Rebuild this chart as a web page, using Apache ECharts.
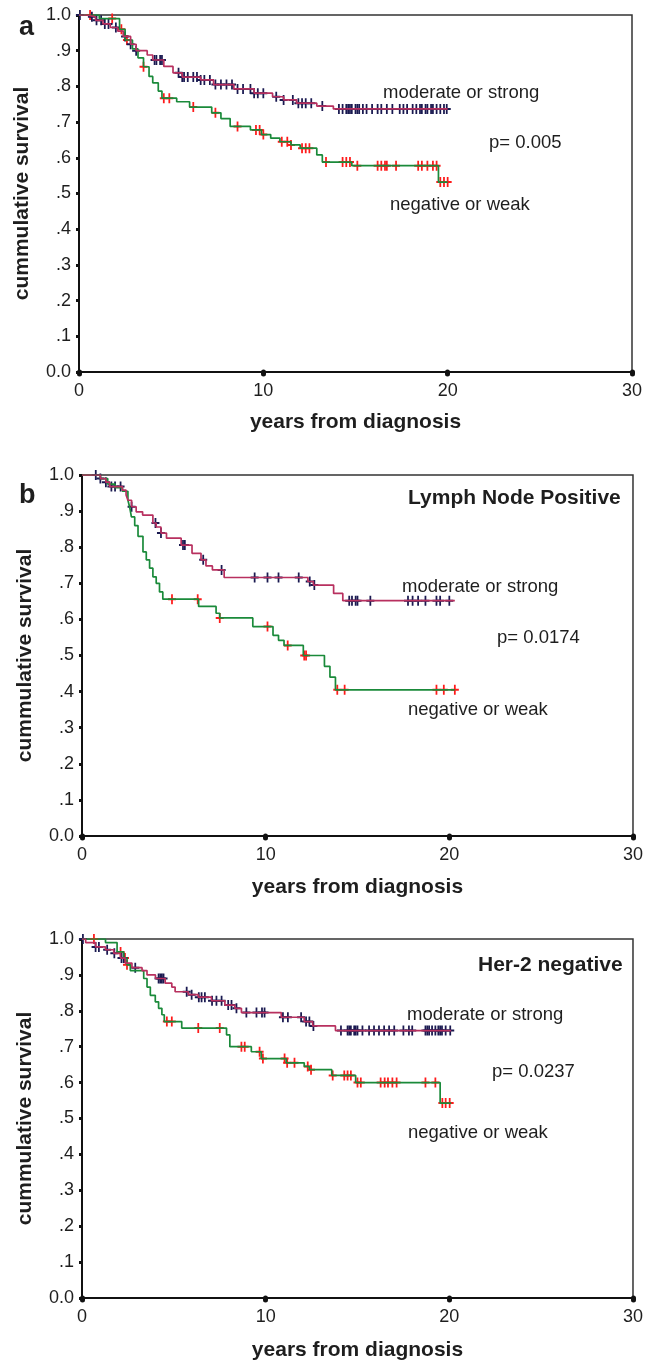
<!DOCTYPE html>
<html>
<head>
<meta charset="utf-8">
<script src="https://cdn.jsdelivr.net/npm/echarts@6/dist/echarts.min.js"></script>
<style>
  html, body { margin: 0; padding: 0; background: #fff; }
  #chart { width: 646px; height: 1362px; }
</style>
</head>
<body>
<div id="chart"></div>
<script>
// survival steps: [years, cumulative survival from that time on]
const aStrongSteps = [[0,1],[0.4,0.995],[0.9,0.985],[1.3,0.975],[1.7,0.965],[2.1,0.955],[2.4,0.94],[2.8,0.918],[3.1,0.9],[3.7,0.888],[4.0,0.874],[4.6,0.856],[5.1,0.838],[5.6,0.826],[6.6,0.818],[7.3,0.805],[8.4,0.793],[9.5,0.781],[10.5,0.771],[11.1,0.762],[11.8,0.753],[12.9,0.745],[13.8,0.737]]
const aWeakSteps = [[0,1],[1.1,0.99],[2.2,0.96],[2.5,0.93],[2.9,0.905],[3.2,0.88],[3.5,0.855],[3.8,0.828],[4.0,0.81],[4.3,0.787],[4.5,0.767],[5.3,0.757],[6.0,0.742],[7.2,0.726],[7.7,0.71],[8.2,0.688],[9.3,0.678],[9.9,0.665],[10.4,0.655],[10.9,0.645],[11.5,0.636],[12.0,0.627],[12.9,0.608],[13.2,0.588],[14.8,0.578],[19.5,0.532]]
const aEnd = 20.0
const aStrongCens = [0.05,0.7,0.95,1.2,1.4,1.6,2.0,2.5,2.8,3.1,4.1,4.2,4.4,4.5,5.4,5.6,5.7,5.9,6.2,6.4,6.6,6.8,7.1,7.4,7.7,8.0,8.3,8.6,8.9,9.3,9.5,9.7,10.0,10.7,11.1,11.6,11.9,12.1,12.3,12.6,13.2,14.1,14.3,14.5,14.6,14.7,14.8,15.0,15.1,15.2,15.4,15.6,15.9,16.2,16.4,16.7,17.0,17.4,17.6,17.8,18.1,18.3,18.5,18.6,18.8,18.9,19.1,19.2,19.4,19.6,19.8,19.95]
const aWeakCens = [0.6,1.8,2.3,2.6,3.5,4.6,4.9,6.2,7.4,8.6,9.6,9.8,10.0,11.0,11.3,11.5,12.1,12.3,12.5,13.4,14.3,14.5,14.7,15.1,16.2,16.4,16.6,16.7,17.2,18.4,18.6,18.9,19.2,19.4,19.6,19.8,20.0]

const bStrongSteps = [[0,1],[1.0,0.99],[1.3,0.98],[1.5,0.968],[2.2,0.958],[2.4,0.945],[2.5,0.93],[2.7,0.912],[2.95,0.898],[3.3,0.889],[3.86,0.867],[4.04,0.856],[4.3,0.839],[4.6,0.825],[5.4,0.806],[5.99,0.783],[6.48,0.765],[6.75,0.748],[7.1,0.737],[7.74,0.716],[12.3,0.705],[12.6,0.695],[13.7,0.672],[14.2,0.652]]
const bWeakSteps = [[0,1],[1.0,0.99],[1.4,0.975],[1.8,0.965],[2.2,0.955],[2.5,0.93],[2.6,0.91],[2.69,0.884],[2.87,0.86],[3.05,0.83],[3.32,0.787],[3.5,0.765],[3.68,0.742],[3.86,0.718],[4.04,0.7],[4.22,0.676],[4.4,0.656],[6.35,0.636],[7.3,0.617],[7.5,0.604],[9.3,0.58],[10.4,0.556],[10.7,0.542],[11.0,0.528],[12.05,0.5],[13.2,0.47],[13.5,0.44],[13.8,0.405]]
const bEnd = 20.3
const bStrongCens = [0.75,1.0,1.3,1.6,1.8,2.1,2.7,4.0,4.3,5.5,5.6,6.6,7.6,9.4,10.1,10.7,11.8,12.4,12.65,14.55,14.7,14.9,15.0,15.7,17.75,18.0,18.3,18.7,19.3,19.5,20.0]
const bWeakCens = [4.9,6.3,7.5,10.1,11.2,12.1,12.2,13.9,14.3,19.3,19.7,20.3]

const cStrongSteps = [[0,1],[0.2,0.99],[0.74,0.978],[1.28,0.97],[1.73,0.96],[2.1,0.947],[2.36,0.933],[2.72,0.92],[3.27,0.912],[3.54,0.9],[4.0,0.89],[4.53,0.877],[4.89,0.866],[5.07,0.853],[5.79,0.845],[6.33,0.838],[7.05,0.828],[7.78,0.816],[8.32,0.807],[8.68,0.795],[10.85,0.782],[12.1,0.77],[12.56,0.758],[13.8,0.745]]
const cWeakSteps = [[0,1],[1.28,0.99],[1.91,0.964],[2.27,0.947],[2.45,0.928],[2.63,0.912],[3.36,0.89],[3.54,0.866],[3.72,0.843],[3.99,0.825],[4.17,0.807],[4.35,0.789],[4.48,0.77],[5.43,0.752],[7.87,0.733],[8.05,0.7],[9.22,0.686],[9.76,0.667],[11.12,0.655],[12.1,0.645],[12.38,0.636],[13.6,0.62],[14.9,0.6],[19.5,0.543]]
const cEnd = 20.1
const cStrongCens = [0.05,0.74,0.92,1.37,1.76,2.15,2.27,2.9,4.17,4.26,4.35,4.44,5.7,5.97,6.36,6.51,6.69,7.08,7.32,7.6,7.96,8.14,8.41,8.95,9.5,9.8,9.94,10.94,11.21,11.93,12.2,12.38,12.6,14.1,14.46,14.55,14.64,14.82,14.9,15.0,15.27,15.63,15.9,16.17,16.45,16.72,17.0,17.5,17.8,17.98,18.7,18.8,18.9,19.06,19.24,19.4,19.5,19.6,19.8,20.05]
const cWeakCens = [0.65,2.1,2.34,2.45,4.62,4.89,6.33,7.5,8.68,8.86,9.67,9.85,11.03,11.17,11.57,12.29,12.47,13.65,14.28,14.46,14.64,15.0,15.18,16.26,16.48,16.66,16.9,17.13,18.7,19.24,19.62,19.8,20.02]

const yTickLabels = ['0.0', '.1', '.2', '.3', '.4', '.5', '.6', '.7', '.8', '.9', '1.0']

const FONT = 'Liberation Sans, Arial, Helvetica, sans-serif'
const TXT = '#1e1e1e'
const strongLine = '#b8305f'
const strongMark = '#191950'
const weakLine = '#1a8a3a'
const weakMark = '#ff1a1a'
const plus = 'path://M3.9,0h2.2v10h-2.2z M0,4h10v2h-10z'

function survAt(steps, t) {
  let s = steps[0][1]
  for (const p of steps) if (p[0] <= t) s = p[1]
  return s
}

const panels = [
  { strong: aStrongSteps, weak: aWeakSteps, end: aEnd, sc: aStrongCens, wc: aWeakCens },
  { strong: bStrongSteps, weak: bWeakSteps, end: bEnd, sc: bStrongCens, wc: bWeakCens },
  { strong: cStrongSteps, weak: cWeakSteps, end: cEnd, sc: cStrongCens, wc: cWeakCens }
]

const grids = [
  { left: 79, top: 15, width: 553, height: 357 },
  { left: 82, top: 475, width: 554, height: 361 },
  { left: 82, top: 939, width: 554, height: 359 }
]
const nameGaps = [40, 41, 42]

const chart = echarts.init(document.getElementById('chart'))

const series = []
panels.forEach((p, i) => {
  const line = (steps, color) => ({
    type: 'line', xAxisIndex: i, yAxisIndex: i, step: 'end', symbol: 'none',
    silent: true, animation: false,
    lineStyle: { color, width: 1.7 },
    data: steps.concat([[p.end, steps[steps.length - 1][1]]])
  })
  const marks = (steps, cens, color) => ({
    type: 'scatter', xAxisIndex: i, yAxisIndex: i, symbol: plus, symbolSize: [8, 10],
    silent: true, animation: false,
    itemStyle: { color, opacity: 1 },
    data: cens.map(t => [t, survAt(steps, t)])
  })
  series.push(line(p.weak, weakLine), line(p.strong, strongLine))
  series.push(marks(p.weak, p.wc, weakMark), marks(p.strong, p.sc, strongMark))
})

const text = (str, x, y, size, bold) => ({
  type: 'text', x, y, silent: true,
  style: { text: str, fill: TXT, fontSize: size, fontWeight: bold ? 'bold' : 'normal', fontFamily: FONT, verticalAlign: 'middle' }
})

chart.setOption({
  animation: false,
  grid: grids.map(g => Object.assign({ show: true, borderColor: '#333', borderWidth: 1.5, backgroundColor: 'transparent' }, g)),
  xAxis: grids.map((g, i) => ({
    type: 'value', gridIndex: i, min: 0, max: 30, interval: 10,
    axisLine: { show: true, onZero: false, lineStyle: { color: '#111', width: 2 } },
    axisTick: { show: true, length: 2, lineStyle: { color: '#111', width: 5, cap: 'round' } },
    axisLabel: { fontSize: 18, color: TXT, fontFamily: FONT, margin: 10 },
    splitLine: { show: false },
    name: 'years from diagnosis', nameLocation: 'middle', nameGap: nameGaps[i],
    nameTextStyle: { fontSize: 21, fontWeight: 'bold', color: TXT, fontFamily: FONT }
  })),
  yAxis: grids.map((g, i) => ({
    type: 'value', gridIndex: i, min: 0, max: 1, interval: 0.1,
    axisLine: { show: true, onZero: false, lineStyle: { color: '#111', width: 2 } },
    axisTick: { show: true, length: 3, lineStyle: { color: '#111', width: 3 } },
    axisLabel: { fontSize: 18, color: TXT, fontFamily: FONT, margin: 8,
      formatter: v => yTickLabels[Math.round(v * 10)] },
    splitLine: { show: false },
    name: 'cummulative survival', nameLocation: 'middle', nameGap: 46,
    nameTextStyle: { fontSize: 21, fontWeight: 'bold', color: TXT, fontFamily: FONT }
  })),
  series,
  graphic: [
    text('a', 19, 28, 27, true),
    text('moderate or strong', 383, 93, 18.5),
    text('p= 0.005', 489, 143, 18.5),
    text('negative or weak', 390, 205, 18.5),
    text('b', 19, 496, 27, true),
    text('Lymph Node Positive', 408, 498, 21, true),
    text('moderate or strong', 402, 587, 18.5),
    text('p= 0.0174', 497, 638, 18.5),
    text('negative or weak', 408, 710, 18.5),
    text('Her-2 negative', 478, 965, 21, true),
    text('moderate or strong', 407, 1015, 18.5),
    text('p= 0.0237', 492, 1072, 18.5),
    text('negative or weak', 408, 1133, 18.5)
  ]
})
</script>
</body>
</html>
